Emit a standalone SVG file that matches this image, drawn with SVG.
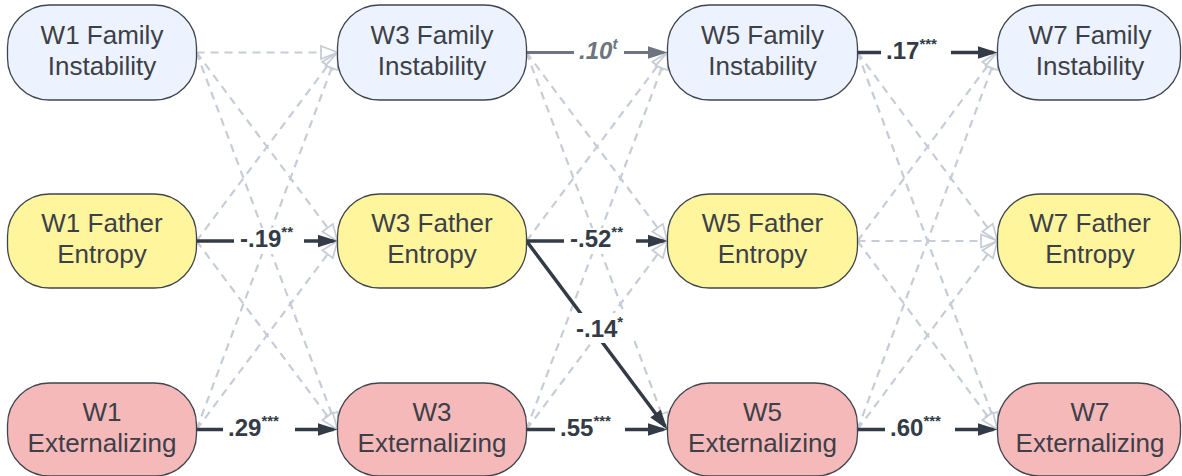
<svg xmlns="http://www.w3.org/2000/svg" width="1182" height="476" viewBox="0 0 1182 476">
<style>
.n rect{stroke:#3f454d;stroke-width:1.3}
.fi rect{fill:#edf3fe}
.fe rect{fill:#fff59d}
.ex rect{fill:#f6b9ba}
.n text{font-family:"Liberation Sans",Arial,sans-serif;font-size:26px;fill:#3c4048;text-anchor:middle}
.d{stroke:#c6cdd6;stroke-width:2.2;stroke-dasharray:8 6;fill:none;marker-end:url(#oa)}
.s{stroke:#333b47;stroke-width:3.5;fill:none;marker-end:url(#sa)}
.g{stroke:#6c7580;stroke-width:3;fill:none;marker-end:url(#ga)}
.lb{font-family:"Liberation Sans",Arial,sans-serif;font-weight:bold;font-size:24px;fill:#333b47}
.lg{fill:#6c7580;font-style:italic}
.sup{font-size:15px}
.bg{fill:#fff}
</style>
<defs>
<marker id="sa" markerUnits="userSpaceOnUse" markerWidth="20" markerHeight="14" refX="16" refY="7" orient="auto"><path d="M0,0.5 L20,7 L0,13.5 z" fill="#333b47"/></marker>
<marker id="ga" markerUnits="userSpaceOnUse" markerWidth="20" markerHeight="14" refX="16" refY="7" orient="auto"><path d="M0,0.5 L20,7 L0,13.5 z" fill="#6c7580"/></marker>
<marker id="oa" markerUnits="userSpaceOnUse" markerWidth="20" markerHeight="16" refX="18" refY="8" orient="auto"><path d="M1.5,1.5 L18,8 L1.5,14.5 z" fill="#fff" stroke="#c6cdd6" stroke-width="1.8"/></marker>
</defs>
<g id="connectors">
<line class="d" x1="196.5" y1="52.5" x2="337.5" y2="52.5"/>
<line class="d" x1="196.5" y1="52.5" x2="337.5" y2="241"/>
<line class="d" x1="196.5" y1="52.5" x2="337.5" y2="429.5"/>
<line class="d" x1="196.5" y1="241" x2="337.5" y2="52.5"/>
<line class="d" x1="196.5" y1="241" x2="337.5" y2="429.5"/>
<line class="d" x1="196.5" y1="429.5" x2="337.5" y2="52.5"/>
<line class="d" x1="196.5" y1="429.5" x2="337.5" y2="241"/>
<line class="d" x1="526.5" y1="52.5" x2="667.5" y2="241"/>
<line class="d" x1="526.5" y1="52.5" x2="667.5" y2="429.5"/>
<line class="d" x1="526.5" y1="241" x2="667.5" y2="52.5"/>
<line class="d" x1="526.5" y1="429.5" x2="667.5" y2="52.5"/>
<line class="d" x1="526.5" y1="429.5" x2="667.5" y2="241"/>
<line class="d" x1="857.5" y1="52.5" x2="997.5" y2="241"/>
<line class="d" x1="857.5" y1="52.5" x2="997.5" y2="429.5"/>
<line class="d" x1="857.5" y1="241" x2="997.5" y2="52.5"/>
<line class="d" x1="857.5" y1="241" x2="997.5" y2="241"/>
<line class="d" x1="857.5" y1="241" x2="997.5" y2="429.5"/>
<line class="d" x1="857.5" y1="429.5" x2="997.5" y2="52.5"/>
<line class="d" x1="857.5" y1="429.5" x2="997.5" y2="241"/>
<line class="s" x1="196.5" y1="241" x2="333.5" y2="241"/>
<line class="s" x1="196.5" y1="429.5" x2="333.5" y2="429.5"/>
<line class="g" x1="526.5" y1="52.5" x2="663.5" y2="52.5"/>
<line class="s" x1="526.5" y1="241" x2="663.5" y2="241"/>
<line class="s" x1="526.5" y1="241" x2="665.1" y2="426.3"/>
<line class="s" x1="526.5" y1="429.5" x2="663.5" y2="429.5"/>
<line class="s" x1="857.5" y1="52.5" x2="993.5" y2="52.5"/>
<line class="s" x1="857.5" y1="429.5" x2="993.5" y2="429.5"/>
<rect class="bg" x="574" y="40" width="50" height="26"/>
<text class="lb lg" x="579" y="59">.10<tspan class="sup" dy="-10">t</tspan></text>
<rect class="bg" x="881" y="40" width="70" height="26"/>
<text class="lb" x="886" y="59">.17<tspan class="sup" dy="-10">***</tspan></text>
<rect class="bg" x="234" y="228" width="70" height="26"/>
<text class="lb" x="240" y="247">-.19<tspan class="sup" dy="-10">**</tspan></text>
<rect class="bg" x="564" y="228" width="72" height="26"/>
<text class="lb" x="570" y="247">-.52<tspan class="sup" dy="-10">**</tspan></text>
<rect class="bg" x="570" y="313" width="64" height="30"/>
<text class="lb" x="576" y="337">-.14<tspan class="sup" dy="-10">*</tspan></text>
<rect class="bg" x="223" y="416" width="72" height="26"/>
<text class="lb" x="228" y="436">.29<tspan class="sup" dy="-10">***</tspan></text>
<rect class="bg" x="555" y="416" width="70" height="26"/>
<text class="lb" x="560" y="436">.55<tspan class="sup" dy="-10">***</tspan></text>
<rect class="bg" x="885" y="416" width="70" height="26"/>
<text class="lb" x="890" y="436">.60<tspan class="sup" dy="-10">***</tspan></text>
</g>
<g id="w1fi" class="n fi"><rect x="7.5" y="5" width="189" height="95" rx="42"/><text x="102" y="43.5">W1 Family</text><text x="102" y="74.5">Instability</text></g>
<g id="w3fi" class="n fi"><rect x="337.5" y="5" width="189" height="95" rx="42"/><text x="432" y="43.5">W3 Family</text><text x="432" y="74.5">Instability</text></g>
<g id="w5fi" class="n fi"><rect x="667.5" y="5" width="190" height="95" rx="42"/><text x="762.5" y="43.5">W5 Family</text><text x="762.5" y="74.5">Instability</text></g>
<g id="w7fi" class="n fi"><rect x="997.5" y="5" width="183" height="95" rx="42"/><text x="1090" y="43.5">W7 Family</text><text x="1090" y="74.5">Instability</text></g>
<g id="w1fe" class="n fe"><rect x="7.5" y="194" width="189" height="94" rx="42"/><text x="102" y="232">W1 Father</text><text x="102" y="263">Entropy</text></g>
<g id="w3fe" class="n fe"><rect x="337.5" y="194" width="189" height="94" rx="42"/><text x="432" y="232">W3 Father</text><text x="432" y="263">Entropy</text></g>
<g id="w5fe" class="n fe"><rect x="667.5" y="194" width="190" height="94" rx="42"/><text x="762.5" y="232">W5 Father</text><text x="762.5" y="263">Entropy</text></g>
<g id="w7fe" class="n fe"><rect x="997.5" y="194" width="183" height="94" rx="42"/><text x="1090" y="232">W7 Father</text><text x="1090" y="263">Entropy</text></g>
<g id="w1ex" class="n ex"><rect x="7.5" y="383" width="189" height="93" rx="42"/><text x="102" y="420.5">W1</text><text x="102" y="451.5">Externalizing</text></g>
<g id="w3ex" class="n ex"><rect x="337.5" y="383" width="189" height="93" rx="42"/><text x="432" y="420.5">W3</text><text x="432" y="451.5">Externalizing</text></g>
<g id="w5ex" class="n ex"><rect x="667.5" y="383" width="190" height="93" rx="42"/><text x="762.5" y="420.5">W5</text><text x="762.5" y="451.5">Externalizing</text></g>
<g id="w7ex" class="n ex"><rect x="997.5" y="383" width="183" height="93" rx="42"/><text x="1090" y="420.5">W7</text><text x="1090" y="451.5">Externalizing</text></g>
</svg>
